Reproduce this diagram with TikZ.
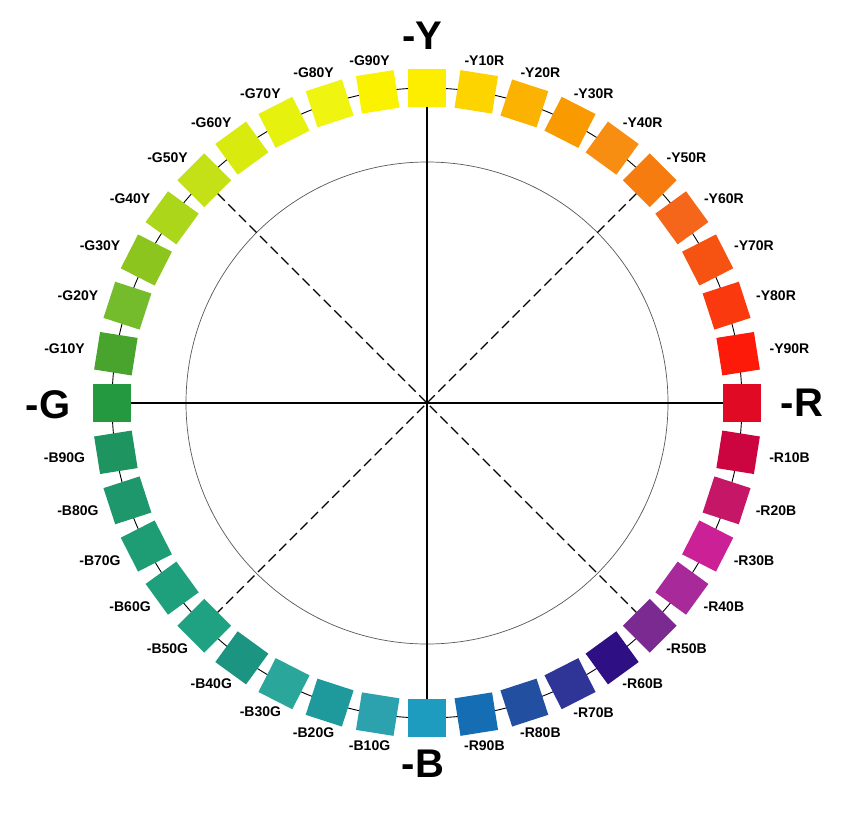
\documentclass[tikz,border=0pt]{standalone}
\usepackage{fontspec}
\setmainfont{Liberation Sans}
\definecolor{c0}{HTML}{FDEE00}
\definecolor{c1}{HTML}{FDD300}
\definecolor{c2}{HTML}{FBB200}
\definecolor{c3}{HTML}{F89A00}
\definecolor{c4}{HTML}{F78E12}
\definecolor{c5}{HTML}{F67C0F}
\definecolor{c6}{HTML}{F5661A}
\definecolor{c7}{HTML}{F65312}
\definecolor{c8}{HTML}{FA390E}
\definecolor{c9}{HTML}{FE1A08}
\definecolor{c10}{HTML}{E00A24}
\definecolor{c11}{HTML}{CC0440}
\definecolor{c12}{HTML}{C61668}
\definecolor{c13}{HTML}{CC2096}
\definecolor{c14}{HTML}{A82A9A}
\definecolor{c15}{HTML}{7B2A92}
\definecolor{c16}{HTML}{2F0F84}
\definecolor{c17}{HTML}{2E3596}
\definecolor{c18}{HTML}{234FA0}
\definecolor{c19}{HTML}{156EB3}
\definecolor{c20}{HTML}{1E9CBF}
\definecolor{c21}{HTML}{2BA2AE}
\definecolor{c22}{HTML}{1E999C}
\definecolor{c23}{HTML}{2AA79A}
\definecolor{c24}{HTML}{1B9582}
\definecolor{c25}{HTML}{1FA282}
\definecolor{c26}{HTML}{1EA07C}
\definecolor{c27}{HTML}{1E9C74}
\definecolor{c28}{HTML}{1E976C}
\definecolor{c29}{HTML}{1E9460}
\definecolor{c30}{HTML}{25993F}
\definecolor{c31}{HTML}{48A42C}
\definecolor{c32}{HTML}{74BC2C}
\definecolor{c33}{HTML}{8CC51E}
\definecolor{c34}{HTML}{ABD61A}
\definecolor{c35}{HTML}{C4E017}
\definecolor{c36}{HTML}{D9EA0E}
\definecolor{c37}{HTML}{E7F10E}
\definecolor{c38}{HTML}{EFF410}
\definecolor{c39}{HTML}{FBF200}
\begin{document}
\begin{tikzpicture}[x=1pt,y=1pt,
  sq/.style={minimum size=38pt, inner sep=0pt, outer sep=0pt, fill=#1},
  lab/.style={font=\bfseries\fontsize{14}{16}\selectfont, inner sep=1pt},
  big/.style={font=\bfseries\fontsize{40}{44}\selectfont, inner sep=0pt},
  axisline/.style={line width=1.4pt},
  diagline/.style={line width=1.1pt, dash pattern=on 10pt off 5pt}]
\useasboundingbox (-427,-424) rectangle (423,403);
\fill[white] (-427,-424) rectangle (423,403);
\coordinate (O) at (0,0);
\draw[line width=0.7pt, black!65] (O) circle (241);
\draw[line width=0.9pt] (O) circle (315);
\foreach \i in {0,...,39} {
  \pgfmathsetmacro\a{90-9*\i}
  \node[sq=c\i, rotate=\a] (sq\i) at (\a:315) {};
}
\foreach \i/\t in {1/-Y10R,2/-Y20R,3/-Y30R,4/-Y40R,5/-Y50R,6/-Y60R,7/-Y70R,8/-Y80R,9/-Y90R,
  11/-R10B,12/-R20B,13/-R30B,14/-R40B,15/-R50B,16/-R60B,17/-R70B,18/-R80B,19/-R90B,
  21/-B10G,22/-B20G,23/-B30G,24/-B40G,25/-B50G,26/-B60G,27/-B70G,28/-B80G,29/-B90G,
  31/-G10Y,32/-G20Y,33/-G30Y,34/-G40Y,35/-G50Y,36/-G60Y,37/-G70Y,38/-G80Y,39/-G90Y} {
  \pgfmathsetmacro\a{90-9*\i}
  \node[lab] (l\i) at ({367*cos(\a)},{347*sin(\a)}) {\t};
}
\node[big] (lY) at (-5,367.5) {-Y};
\node[big] (lR) at (375,0) {-R};
\node[big] (lB) at (-4,-361) {-B};
\node[big] (lG) at (-379,-2) {-G};
\draw[axisline] (sq30) -- (sq10);
\draw[axisline] (sq0) -- (sq20);
\draw[diagline] (sq35) -- (sq15);
\draw[diagline] (sq5) -- (sq25);
\end{tikzpicture}
\end{document}
